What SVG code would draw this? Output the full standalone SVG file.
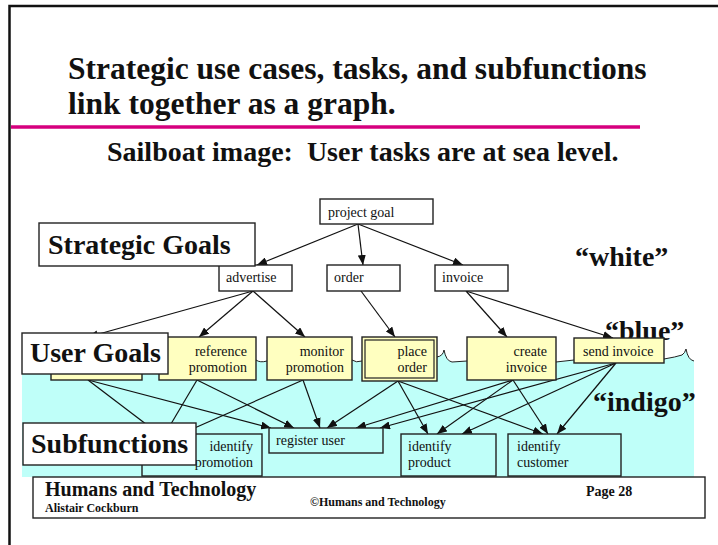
<svg xmlns="http://www.w3.org/2000/svg" width="718" height="545" viewBox="0 0 718 545">
<style>
.t{font-family:"Liberation Serif","Times New Roman",serif;fill:#111}
.b{font-weight:bold}
.s{font-size:14px}
.big{font-size:28px;font-weight:bold}
.box{fill:#fff;stroke:#222;stroke-width:1.4}
.yel{fill:#ffffc0;stroke:#222;stroke-width:1.4}
.cy{fill:#bffff9;stroke:#222;stroke-width:1.4}
.c line{stroke:#111;stroke-width:1.2;marker-end:url(#ah)}
.e{text-anchor:end}
</style>
<defs>
<marker id="ah" markerUnits="userSpaceOnUse" markerWidth="10" markerHeight="8" refX="10" refY="4" orient="auto">
<path d="M0,0 L10,4 L0,8 Z" fill="#111"/>
</marker>
</defs>
<rect width="718" height="545" fill="#fff"/>
<!-- frame -->
<path d="M9.5,545 L9.5,6 L718,6" fill="none" stroke="#111" stroke-width="2.5"/>
<!-- title -->
<text class="t b" x="68" y="79" font-size="31.5">Strategic use cases, tasks, and subfunctions</text>
<text class="t b" x="68" y="114" font-size="31.5">link together as a graph.</text>
<line x1="11" y1="127" x2="640" y2="127" stroke="#d6007e" stroke-width="3.5"/>
<text class="t b" x="107" y="161" font-size="28" style="white-space:pre">Sailboat image:  User tasks are at sea level.</text>
<!-- sea -->
<rect x="22" y="351" width="672" height="126" fill="#bffff9"/>
<path d="M142,340 L142,360 L256,360 Q260,363 267,361 L352,360 Q356,363 362,361 L437,357 Q443,356 444,350 Q446,361 452,362 L467,361 L556,362 L574,360 L664,359 Q676,357 682,355 Q685,353 686,349 Q688,360 694,361 L694,340 Z" fill="#fff"/>
<path d="M142,360 L256,360 Q260,363 267,361 L352,360 Q356,363 362,361 L437,357 Q443,356 444,350 Q446,361 452,362 L467,361 L556,362 L574,360 L664,359 Q676,357 682,355 Q685,353 686,349 Q688,360 694,361" fill="none" stroke="#222" stroke-width="1"/>
<!-- colour labels -->
<text class="t big" x="575" y="266">“white”</text>
<text class="t big" x="605" y="340">“blue”</text>
<text class="t big" x="593" y="411">“indigo”</text>
<!-- connectors -->
<g id="connectors" class="c">
<line x1="358" y1="224" x2="257" y2="265"/>
<line x1="358" y1="224" x2="363" y2="265"/>
<line x1="358" y1="224" x2="463" y2="265"/>
<line x1="253" y1="291" x2="88" y2="337"/>
<line x1="253" y1="291" x2="199" y2="337"/>
<line x1="253" y1="291" x2="305" y2="337"/>
<line x1="361" y1="291" x2="395" y2="337"/>
<line x1="466" y1="291" x2="507" y2="337"/>
<line x1="466" y1="291" x2="613" y2="338"/>
<line x1="88" y1="380" x2="159" y2="434"/>
<line x1="88" y1="380" x2="271" y2="428"/>
<line x1="197" y1="380" x2="165" y2="434"/>
<line x1="197" y1="380" x2="294" y2="428"/>
<line x1="303" y1="380" x2="181" y2="434"/>
<line x1="303" y1="380" x2="320" y2="428"/>
<line x1="398" y1="381" x2="327" y2="428"/>
<line x1="398" y1="381" x2="428" y2="434"/>
<line x1="398" y1="381" x2="543" y2="434"/>
<line x1="513" y1="380" x2="356" y2="428"/>
<line x1="513" y1="380" x2="437" y2="434"/>
<line x1="513" y1="380" x2="548" y2="434"/>
<line x1="616" y1="363" x2="380" y2="428"/>
<line x1="616" y1="363" x2="462" y2="434"/>
<line x1="616" y1="363" x2="557" y2="434"/>
</g>
<!-- strategic level -->
<g id="project-goal"><rect class="box" x="320" y="199" width="113" height="25"/><text class="t s" x="328" y="217">project goal</text></g>
<g id="advertise"><rect class="box" x="219" y="265" width="73" height="26"/><text class="t s" x="226" y="282">advertise</text></g>
<g id="order"><rect class="box" x="327" y="265" width="73" height="26"/><text class="t s" x="334" y="282">order</text></g>
<g id="invoice"><rect class="box" x="435" y="265" width="73" height="26"/><text class="t s" x="442" y="282">invoice</text></g>
<g id="strategic-goals"><rect class="box" x="39" y="223" width="216" height="43"/><text class="t big" x="48" y="254">Strategic Goals</text></g>
<!-- user goals level -->
<g id="hidden-task"><rect class="yel" x="51" y="337" width="91" height="43"/></g>
<g id="reference-promotion"><rect class="yel" x="159" y="337" width="97" height="43"/><text class="t s e" x="247" y="356">reference</text><text class="t s e" x="247" y="372">promotion</text></g>
<g id="user-goals"><rect class="box" x="22" y="333" width="146" height="41"/><text class="t big" x="30" y="362">User Goals</text></g>
<g id="monitor-promotion"><rect class="yel" x="267" y="337" width="85" height="43"/><text class="t s e" x="344" y="356">monitor</text><text class="t s e" x="344" y="372">promotion</text></g>
<g id="place-order"><rect class="yel" x="362" y="337" width="75" height="44"/><rect x="365" y="340" width="69" height="38" fill="none" stroke="#222" stroke-width="1.2"/><text class="t s e" x="427" y="356">place</text><text class="t s e" x="427" y="372">order</text></g>
<g id="create-invoice"><rect class="yel" x="467" y="337" width="89" height="43"/><text class="t s e" x="547" y="356">create</text><text class="t s e" x="547" y="372">invoice</text></g>
<g id="send-invoice"><rect class="yel" x="574" y="338" width="90" height="25"/><text class="t s" x="583" y="356">send invoice</text></g>
<!-- subfunctions level -->
<g id="identify-promotion"><rect class="cy" x="142" y="434" width="120" height="42"/><text class="t s e" x="253" y="451">identify</text><text class="t s e" x="253" y="467">promotion</text></g>
<g id="subfunctions"><rect class="box" x="23" y="423" width="173" height="42"/><text class="t big" x="31" y="453">Subfunctions</text></g>
<g id="register-user"><rect class="cy" x="269" y="428" width="114" height="25"/><text class="t s" x="276" y="445">register user</text></g>
<g id="identify-product"><rect class="cy" x="401" y="434" width="95" height="42"/><text class="t s" x="408" y="451">identify</text><text class="t s" x="408" y="467">product</text></g>
<g id="identify-customer"><rect class="cy" x="508" y="434" width="113" height="42"/><text class="t s" x="517" y="451">identify</text><text class="t s" x="517" y="467">customer</text></g>
<!-- footer -->
<g id="footer">
<rect class="box" x="33" y="477" width="672" height="41"/>
<text class="t b" x="45" y="496" font-size="20">Humans and Technology</text>
<text class="t b" x="45" y="512" font-size="12">Alistair Cockburn</text>
<text class="t b" x="310" y="506" font-size="12">©Humans and Technology</text>
<text class="t b" x="586" y="496" font-size="14">Page 28</text>
</g>
</svg>
